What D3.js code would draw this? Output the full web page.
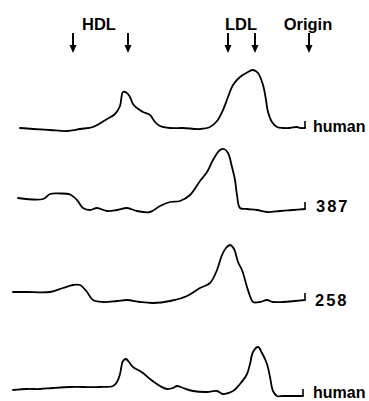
<!DOCTYPE html>
<html>
<head>
<meta charset="utf-8">
<script src="https://cdn.jsdelivr.net/npm/d3@7"></script>
<style>
  html, body { margin: 0; padding: 0; background: #fff; }
  svg { display: block; }
  .lbl { font-family: "Liberation Sans", Arial, sans-serif; font-weight: bold; fill: #000; }
</style>
</head>
<body>
<div id="chart"></div>
<script>
// migration distance (arbitrary units) vs. densitometer signal above baseline
const traceNames = ['human', '387', '258', 'human'];

const humanTop = [
  [20, 2], [33, 1], [50, 0], [67, -1], [80, 1], [93, 3], [107, 11], [115, 16], [120, 24],
  [123, 38], [127, 37], [130, 33], [133, 26], [137, 22], [143, 18], [150, 15], [155, 8],
  [160, 4], [170, 2], [183, 2], [200, 1], [210, 3], [217, 9], [223, 20], [228, 33],
  [233, 45], [240, 53], [248, 58], [253, 60], [258, 57], [263, 45], [266, 30], [268, 18],
  [272, 8], [277, 3], [283, 2], [290, 2], [297, 3], [300, 2], [305, 2]
];
const sample387 = [
  [18, 14], [43, 13], [50, 18], [60, 18.5], [70, 17.5], [77, 12], [83, 4], [90, 2],
  [97, 4], [107, 1], [117, 2], [127, 4], [137, 1], [150, 0], [160, 6], [170, 10],
  [180, 11], [190, 17], [200, 31], [207, 40], [213, 52], [220, 62], [224, 63], [228, 59],
  [232, 45], [235, 32], [237, 17], [240, 4], [247, 3], [257, 2], [267, 0], [280, 1],
  [293, 2], [305, 3]
];
const sample258 = [
  [13, 11], [27, 11], [50, 11], [63, 15], [73, 18], [80, 18], [87, 11], [93, 3],
  [103, 1], [117, 2], [127, 3], [140, 1], [153, 0], [170, 2], [187, 7], [200, 15],
  [210, 20], [217, 33], [222, 48], [226, 55], [230, 58], [234, 54], [238, 41], [242, 33],
  [247, 16], [250, 7], [253, 1], [260, 1], [267, 3], [273, 1], [283, 1], [295, 2], [305, 3]
];
const humanBottom = [
  [13, 6], [27, 7], [40, 7], [53, 8], [70, 9], [83, 9], [100, 9], [113, 10], [117, 14],
  [120, 22], [123, 35], [126, 37], [129, 34], [133, 29], [140, 25], [143, 23], [150, 17],
  [160, 10], [167, 7], [173, 8], [177, 10], [183, 8], [193, 5], [207, 4], [217, 5],
  [223, 2], [233, 5], [240, 12], [247, 22], [250, 32], [253, 44], [258, 49], [262, 43],
  [267, 32], [270, 19], [273, 5], [277, 0], [283, 0], [293, 0], [303, 0]
];
const traces = [humanTop, sample387, sample258, humanBottom];

// band markers along the migration axis
const markerPositions = [73, 128, 228, 255, 309];
const bandLabels = ['HDL', 'LDL', 'Origin'];
const bandLabelPositions = [99, 241, 308];

const width = 369;
const height = 401;
const baselines = [130, 212, 303, 396]; // pixel baseline of each trace
const labelX = [313, 316, 315, 313];
const labelDy = [2, 0, 3, 2];

const svg = d3.select('#chart').append('svg')
  .attr('width', width)
  .attr('height', height);

const xScale = d3.scaleLinear().domain([0, 320]).range([0, 320]);
const yScale = d3.scaleLinear().domain([0, 60]).range([0, -60]);

const line = d3.line()
  .x(d => xScale(d[0]))
  .y(d => yScale(d[1]))
  .curve(d3.curveCatmullRom.alpha(0.5));

traces.forEach((data, i) => {
  const g = svg.append('g')
    .attr('transform', `translate(0,${baselines[i]})`);

  g.append('path')
    .datum(data)
    .attr('fill', 'none')
    .attr('stroke', '#000')
    .attr('stroke-width', 1.8)
    .attr('stroke-linejoin', 'round')
    .attr('stroke-linecap', 'round')
    .attr('d', line);

  // small end tick at the origin side
  const last = data[data.length - 1];
  g.append('line')
    .attr('x1', xScale(last[0]))
    .attr('x2', xScale(last[0]))
    .attr('y1', yScale(last[1]))
    .attr('y2', yScale(last[1]) - 7)
    .attr('stroke', '#000')
    .attr('stroke-width', 1.6);

  const isNum = traceNames[i] !== 'human';
  g.append('text')
    .attr('class', 'lbl')
    .attr('x', labelX[i])
    .attr('y', labelDy[i])
    .attr('font-size', isNum ? 16.5 : 16)
    .attr('letter-spacing', isNum ? 2 : 0)
    .text(traceNames[i]);
});

// arrows
const arrows = svg.append('g');
markerPositions.forEach(p => {
  const x = xScale(p);
  arrows.append('line')
    .attr('x1', x).attr('x2', x)
    .attr('y1', 33).attr('y2', 47)
    .attr('stroke', '#000')
    .attr('stroke-width', 2);
  arrows.append('path')
    .attr('d', `M${x - 3.5},45 L${x + 3.5},45 L${x},53 Z`)
    .attr('fill', '#000');
});

bandLabels.forEach((t, i) => {
  svg.append('text')
    .attr('class', 'lbl')
    .attr('x', xScale(bandLabelPositions[i]))
    .attr('y', 30)
    .attr('text-anchor', 'middle')
    .attr('font-size', 16.5)
    .text(t);
});
</script>
</body>
</html>
